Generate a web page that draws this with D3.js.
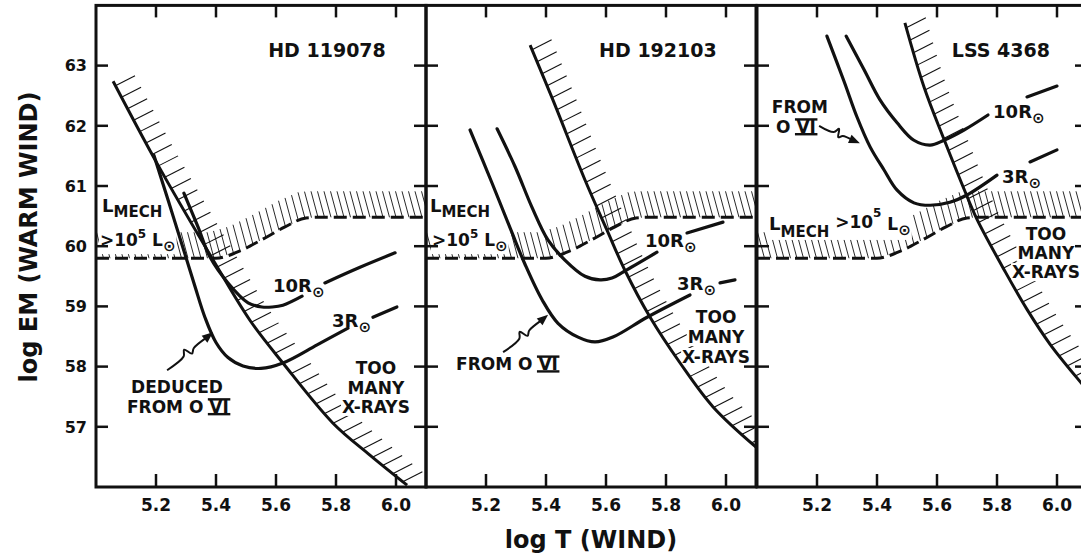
<!DOCTYPE html>
<html>
<head>
<meta charset="utf-8">
<script src="https://cdn.jsdelivr.net/npm/d3@7"></script>
<style>
  body { margin: 0; background: #fff; }
  svg text { font-family: "DejaVu Sans", sans-serif; font-weight: bold; fill: #111; }
</style>
</head>
<body>
<svg id="chart" width="1081" height="559"></svg>
<script>
// ---- data (log T, log EM) ----
const starNames = ["HD 119078", "HD 192103", "LSS 4368"];
const xTicks = [5.2, 5.4, 5.6, 5.8, 6.0];
const yTicks = [57, 58, 59, 60, 61, 62, 63];

// L_MECH > 1e5 Lsun limit (same in every panel)
const lmechEdge = [[5.0, 59.8], [5.40, 59.8], [5.47, 59.9], [5.55, 60.1], [5.63, 60.32], [5.70, 60.47], [5.74, 60.48], [6.1, 60.48]];

// "too many x-rays" limit, one per star
const xrayLimit = [
  [[5.057, 62.74], [5.203, 61.38], [5.387, 59.80], [5.513, 58.77], [5.623, 58.06], [5.79, 57.06], [5.913, 56.53], [6.037, 56.03]],
  [[5.347, 63.34], [5.423, 62.43], [5.53, 61.10], [5.603, 60.27], [5.663, 59.60], [5.747, 58.82], [5.847, 58.06], [5.957, 57.33], [6.103, 56.65]],
  [[5.493, 63.71], [5.557, 62.64], [5.623, 61.78], [5.69, 60.95], [5.733, 60.45], [5.827, 59.58], [5.9, 58.95], [5.977, 58.37], [6.077, 57.75], [6.12, 57.5]]
];

// O VI curves, 3 Rsun
const ovi3 = [
  [[5.193, 61.51], [5.24, 60.77], [5.287, 60.02], [5.33, 59.33], [5.363, 58.82], [5.40, 58.40], [5.44, 58.15], [5.49, 58.01], [5.55, 57.97], [5.623, 58.06], [5.737, 58.36], [5.84, 58.64]],
  [[5.147, 61.93], [5.22, 61.05], [5.287, 60.22], [5.33, 59.70], [5.387, 59.11], [5.44, 58.72], [5.507, 58.49], [5.563, 58.41], [5.623, 58.49], [5.737, 58.82], [5.88, 59.19]],
  [[5.233, 63.49], [5.29, 62.74], [5.333, 62.15], [5.377, 61.65], [5.423, 61.27], [5.467, 60.93], [5.523, 60.72], [5.577, 60.68], [5.643, 60.73], [5.70, 60.85], [5.80, 61.18]]
];
const ovi3Tail = [
  [[5.923, 58.82], [6.003, 58.99]],
  [[5.98, 59.39], [6.03, 59.44]],
  [[5.91, 61.40], [6.0, 61.60]]
];

// O VI curves, 10 Rsun
const ovi10 = [
  [[5.293, 60.88], [5.34, 60.32], [5.38, 59.82], [5.44, 59.39], [5.507, 59.06], [5.553, 58.99], [5.587, 58.99], [5.623, 59.02], [5.687, 59.17]],
  [[5.237, 61.95], [5.297, 61.32], [5.353, 60.65], [5.407, 60.10], [5.463, 59.77], [5.53, 59.50], [5.58, 59.44], [5.62, 59.47], [5.66, 59.58], [5.77, 59.90]],
  [[5.297, 63.49], [5.357, 62.93], [5.41, 62.43], [5.467, 62.05], [5.523, 61.76], [5.577, 61.68], [5.623, 61.76], [5.69, 61.93], [5.77, 62.18]]
];
const ovi10Tail = [
  [[5.763, 59.39], [5.88, 59.65], [5.997, 59.89]],
  [[5.87, 60.22], [5.99, 60.40]],
  [[5.9, 62.48], [6.0, 62.66]]
];

// pointer arrows [tail, head]
const arrows = [
  [[5.237, 57.94], [5.39, 58.57]],
  [[5.257, 58.24], [5.407, 58.86]],
  [[5.207, 62.0], [5.343, 61.71]]
];

// annotations: anchor in (log T, log EM)
const sun = { t: "\u2299", fs: 15, dy: 5 };
const notes = [
  [
    { T: 5.77, E: 63.14, a: "middle", p: [{ t: "HD 119078", fs: 19 }] },
    { T: 5.02, E: 60.57, a: "start", bg: 1, p: [{ t: "L", fs: 18 }, { t: "MECH", fs: 15, dy: 5 }] },
    { T: 5.013, E: 60.0, a: "start", bg: 1, p: [{ t: ">10", fs: 17 }, { t: "5", fs: 12, dy: -8 }, { t: " L", fs: 17, dy: 8 }, sun] },
    { T: 5.27, E: 57.56, a: "middle", p: [{ t: "DEDUCED", fs: 17 }] },
    { T: 5.273, E: 57.23, a: "middle", p: [{ t: "FROM O ", fs: 17 }, { t: "VI", fs: 17, bar: 1 }] },
    { T: 5.59, E: 59.24, a: "start", bg: 1, p: [{ t: "10R", fs: 18 }, sun] },
    { T: 5.787, E: 58.66, a: "start", bg: 1, p: [{ t: "3R", fs: 18 }, sun] },
    { T: 5.933, E: 57.88, a: "middle", bg: 1, p: [{ t: "TOO", fs: 17 }] },
    { T: 5.933, E: 57.54, a: "middle", bg: 1, p: [{ t: "MANY", fs: 17 }] },
    { T: 5.933, E: 57.23, a: "middle", bg: 1, p: [{ t: "X-RAYS", fs: 17 }] }
  ],
  [
    { T: 5.773, E: 63.14, a: "middle", p: [{ t: "HD 192103", fs: 19 }] },
    { T: 5.013, E: 60.57, a: "start", bg: 1, p: [{ t: "L", fs: 18 }, { t: "MECH", fs: 15, dy: 5 }] },
    { T: 5.02, E: 60.0, a: "start", bg: 1, p: [{ t: ">10", fs: 17 }, { t: "5", fs: 12, dy: -8 }, { t: " L", fs: 17, dy: 8 }, sun] },
    { T: 5.27, E: 57.94, a: "middle", p: [{ t: "FROM O ", fs: 17 }, { t: "VI", fs: 17, bar: 1 }] },
    { T: 5.73, E: 59.99, a: "start", bg: 1, p: [{ t: "10R", fs: 18 }, sun] },
    { T: 5.837, E: 59.27, a: "start", bg: 1, p: [{ t: "3R", fs: 18 }, sun] },
    { T: 5.967, E: 58.72, a: "middle", bg: 1, p: [{ t: "TOO", fs: 17 }] },
    { T: 5.967, E: 58.39, a: "middle", bg: 1, p: [{ t: "MANY", fs: 17 }] },
    { T: 5.967, E: 58.06, a: "middle", bg: 1, p: [{ t: "X-RAYS", fs: 17 }] }
  ],
  [
    { T: 5.813, E: 63.14, a: "middle", p: [{ t: "LSS 4368", fs: 19 }] },
    { T: 5.143, E: 62.21, a: "middle", p: [{ t: "FROM", fs: 17 }] },
    { T: 5.13, E: 61.88, a: "middle", p: [{ t: "O ", fs: 17 }, { t: "VI", fs: 17, bar: 1 }] },
    { T: 5.04, E: 60.27, a: "start", bg: 1, p: [{ t: "L", fs: 18 }, { t: "MECH", fs: 15, dy: 7 }, { t: " >", fs: 17, dy: -9 }, { t: "10", fs: 17 }, { t: "5", fs: 12, dy: -11 }, { t: " L", fs: 17, dy: 13 }, { t: "\u2299", fs: 15, dy: 5 }] },
    { T: 5.787, E: 62.13, a: "start", bg: 1, p: [{ t: "10R", fs: 18 }, sun] },
    { T: 5.817, E: 61.05, a: "start", bg: 1, p: [{ t: "3R", fs: 18 }, sun] },
    { T: 5.963, E: 60.10, a: "middle", bg: 1, p: [{ t: "TOO", fs: 17 }] },
    { T: 5.963, E: 59.79, a: "middle", bg: 1, p: [{ t: "MANY", fs: 17 }] },
    { T: 5.963, E: 59.47, a: "middle", bg: 1, p: [{ t: "X-RAYS", fs: 17 }] }
  ]
];

// ---- layout ----
const ink = "#111";
const panelLeft = [96, 426, 757];
const panelW = 330;
const x = d3.scaleLinear().domain([5.0, 6.1]).range([0, panelW]);
const y = d3.scaleLinear().domain([56, 64]).range([487, 5.4]);
const lmechAt = d3.scaleLinear().domain(lmechEdge.map(d => d[0])).range(lmechEdge.map(d => d[1])).clamp(true);

const smooth = d3.line().x(d => x(d[0])).y(d => y(d[1])).curve(d3.curveCatmullRom.alpha(0.5));

const svg = d3.select("#chart");
const defs = svg.append("defs");

function addLabel(g, bgG, n) {
  const t = g.append("text")
    .attr("x", x(n.T)).attr("y", y(n.E))
    .attr("text-anchor", n.a);
  n.p.forEach(p => {
    const s = t.append("tspan").text(p.t).attr("font-size", p.fs);
    if (p.dy) s.attr("dy", p.dy);
  });
  const node = t.node();
  // roman numeral bars over and under "VI"
  if (n.p.some(p => p.bar)) {
    const k = node.getNumberOfChars();
    const a = node.getStartPositionOfChar(k - 2);
    const b = node.getEndPositionOfChar(k - 1);
    [a.y + 1.2, a.y - 13.6].forEach(yy => {
      g.append("line")
        .attr("x1", a.x - 1.5).attr("x2", b.x + 1.5)
        .attr("y1", yy).attr("y2", yy)
        .attr("stroke", ink).attr("stroke-width", 2.4);
    });
  }
  if (n.bg) {
    const bb = node.getBBox();
    bgG.append("rect")
      .attr("x", bb.x - 1).attr("y", bb.y + 1)
      .attr("width", bb.width + 2).attr("height", bb.height - 2)
      .attr("fill", "#fff");
  }
}

function squiggleArrow(g, tail, head) {
  const p0 = [x(tail[0]), y(tail[1])], p1 = [x(head[0]), y(head[1])];
  const dx = p1[0] - p0[0], dy = p1[1] - p0[1], L = Math.hypot(dx, dy);
  const u = [dx / L, dy / L], nrm = [-u[1], u[0]];
  const at = (t, o) => [p0[0] + u[0] * t * L + nrm[0] * o, p0[1] + u[1] * t * L + nrm[1] * o];
  const pts = [at(0, 0), at(0.36, 0), at(0.44, -5), at(0.5, 3), at(0.58, 0), at(1 - 8 / L, 0)];
  g.append("path")
    .attr("d", d3.line().curve(d3.curveCatmullRom)(pts))
    .attr("fill", "none").attr("stroke", ink).attr("stroke-width", 2);
  const b1 = at(1 - 11 / L, 4.5), b2 = at(1 - 11 / L, -4.5);
  g.append("path")
    .attr("d", `M${p1[0]},${p1[1]}L${b1[0]},${b1[1]}L${b2[0]},${b2[1]}Z`)
    .attr("fill", ink);
}

starNames.forEach((name, i) => {
  const g = svg.append("g").attr("transform", `translate(${panelLeft[i]},0)`);
  defs.append("clipPath").attr("id", "clip" + i)
    .append("rect")
    .attr("x", 0).attr("y", y(64))
    .attr("width", panelW).attr("height", y(56) - y(64));

  const hatchG = g.append("g").attr("clip-path", `url(#clip${i})`);
  const bgG = g.append("g");
  const lineG = g.append("g").attr("clip-path", `url(#clip${i})`);
  const textG = g.append("g");
  const frameG = g.append("g");

  // hatched band above the L_MECH limit
  for (let px = -12; px <= panelW + 12; px += 6.5) {
    const yb = y(lmechAt(x.invert(px)));
    hatchG.append("line")
      .attr("x1", px - 7).attr("y1", yb - 26)
      .attr("x2", px).attr("y2", yb)
      .attr("stroke", ink).attr("stroke-width", 0.9);
  }

  lineG.append("path")
    .attr("d", d3.line().x(d => x(d[0])).y(d => y(d[1])).curve(d3.curveMonotoneX)(lmechEdge))
    .attr("fill", "none").attr("stroke", ink)
    .attr("stroke-width", 3).attr("stroke-dasharray", "13,6");

  // x-ray limit with its hatch ticks
  const limit = lineG.append("path")
    .attr("d", smooth(xrayLimit[i]))
    .attr("fill", "none").attr("stroke", ink).attr("stroke-width", 3);
  const ln = limit.node(), total = ln.getTotalLength();
  const ang = 27 * Math.PI / 180, len = 22;
  for (let s = 5; s < total; s += 13) {
    const p = ln.getPointAtLength(s);
    hatchG.append("line")
      .attr("x1", p.x).attr("y1", p.y)
      .attr("x2", p.x + len * Math.cos(ang)).attr("y2", p.y - len * Math.sin(ang))
      .attr("stroke", ink).attr("stroke-width", 1.1);
  }

  [ovi3[i], ovi10[i], ovi3Tail[i], ovi10Tail[i]].forEach(c => {
    lineG.append("path")
      .attr("d", smooth(c))
      .attr("fill", "none").attr("stroke", ink)
      .attr("stroke-width", 3.2).attr("stroke-linecap", "round");
  });

  squiggleArrow(textG, arrows[i][0], arrows[i][1]);
  notes[i].forEach(n => addLabel(textG, bgG, n));

  // frame and ticks
  frameG.append("rect")
    .attr("x", 0).attr("y", y(64))
    .attr("width", panelW).attr("height", y(56) - y(64))
    .attr("fill", "none").attr("stroke", ink).attr("stroke-width", 3);
  yTicks.forEach(v => {
    [[0, 12], [panelW - 12, panelW]].forEach(([a, b]) => {
      frameG.append("line").attr("x1", a).attr("x2", b)
        .attr("y1", y(v)).attr("y2", y(v))
        .attr("stroke", ink).attr("stroke-width", 2.5);
    });
  });
  xTicks.forEach(v => {
    [[y(56), y(56) - 13], [y(64), y(64) + 12]].forEach(([a, b]) => {
      frameG.append("line").attr("x1", x(v)).attr("x2", x(v))
        .attr("y1", a).attr("y2", b)
        .attr("stroke", ink).attr("stroke-width", 2.5);
    });
    frameG.append("text")
      .attr("x", x(v)).attr("y", 511)
      .attr("text-anchor", "middle").attr("font-size", 17)
      .text(v.toFixed(1));
  });
  if (i === 0) {
    yTicks.forEach(v => {
      frameG.append("text")
        .attr("x", -9).attr("y", y(v)).attr("dy", "0.36em")
        .attr("text-anchor", "end").attr("font-size", 16)
        .text(v);
    });
  }
});

// axis titles
svg.append("text")
  .attr("transform", "translate(37,237) rotate(-90)")
  .attr("text-anchor", "middle").attr("font-size", 24)
  .text("log EM (WARM WIND)");
svg.append("text")
  .attr("x", 591).attr("y", 548)
  .attr("text-anchor", "middle").attr("font-size", 24)
  .text("log T (WIND)");
</script>
</body>
</html>
